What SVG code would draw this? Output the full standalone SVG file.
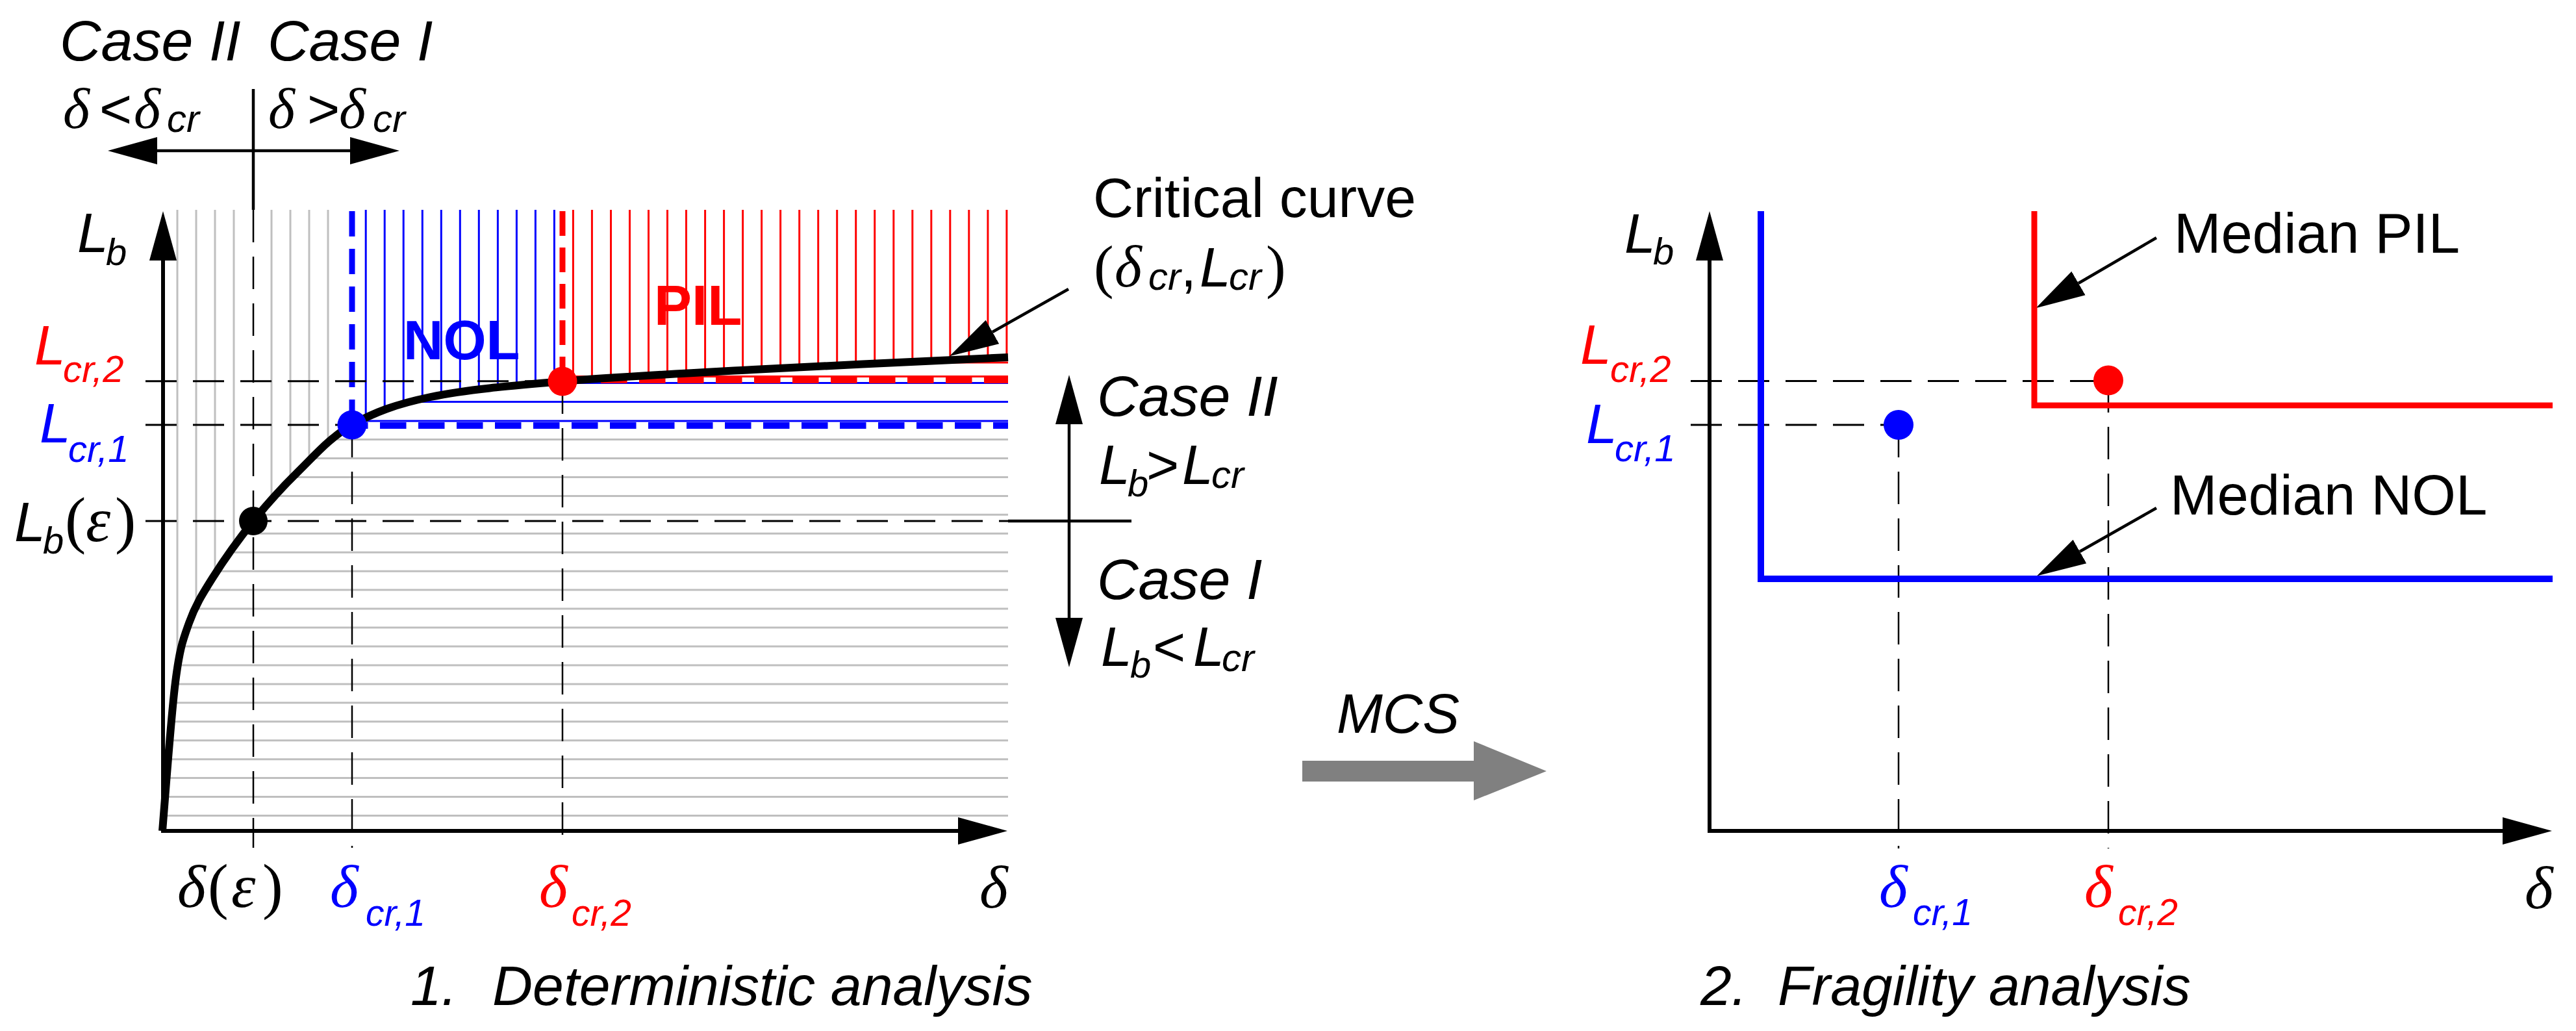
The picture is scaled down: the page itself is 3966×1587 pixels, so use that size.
<svg xmlns="http://www.w3.org/2000/svg" width="3966" height="1587" viewBox="0 0 3966 1587">
<style>
.t{font-family:"Liberation Sans",Arial,sans-serif;fill:#000}
.i{font-style:italic}
.g{font-family:"Liberation Serif","Times New Roman",serif;font-style:italic}
.p{font-family:"Liberation Serif","Times New Roman",serif;font-style:normal}
.b{font-weight:bold}
.red{fill:#ff0000}
.blue{fill:#0000ff}
.ax{stroke:#000;stroke-width:6;fill:none;stroke-linejoin:miter}
.arr{stroke:#000;stroke-width:4.5;fill:none}
.gh{stroke:#bfbfbf;stroke-width:3;fill:none}
.bh{stroke:#0000ff;stroke-width:3;fill:none}
.rh{stroke:#ff0000;stroke-width:3;fill:none}
.dh{stroke:#000;stroke-width:3;stroke-dasharray:48 25;fill:none}
.dv{stroke:#000;stroke-width:2.5;stroke-dasharray:50 22;fill:none}
</style>
<defs>
<marker id="ah" viewBox="0 -22 78 44" refX="0" refY="0" markerWidth="78" markerHeight="44" markerUnits="userSpaceOnUse" orient="auto-start-reverse"><path d="M0,-21 L76,0 L0,21 Z" fill="#000"/></marker>
<path id="curve" d="M250 1279 C253.3 1240.8 263.2 1103.3 270 1050 C276.8 996.7 281.5 985.7 291 959 C300.5 932.3 310.5 916.2 327 890 C343.5 863.8 368 829.3 390 802 C412 774.7 433.7 750.7 459 726 C484.3 701.3 508 673.2 542 654 C576 634.8 609 622.2 663 611 C717 599.8 783.3 594 866 587 C948.7 580 1044.7 575.2 1159 569 C1273.3 562.8 1486.5 553.2 1552 550"/>
<clipPath id="above"><path d="M250 1279 C253.3 1240.8 263.2 1103.3 270 1050 C276.8 996.7 281.5 985.7 291 959 C300.5 932.3 310.5 916.2 327 890 C343.5 863.8 368 829.3 390 802 C412 774.7 433.7 750.7 459 726 C484.3 701.3 508 673.2 542 654 C576 634.8 609 622.2 663 611 C717 599.8 783.3 594 866 587 C948.7 580 1044.7 575.2 1159 569 C1273.3 562.8 1486.5 553.2 1552 550 L1560 550 L1560 300 L240 300 L240 1279 Z"/></clipPath>
<clipPath id="below"><path d="M250 1279 C253.3 1240.8 263.2 1103.3 270 1050 C276.8 996.7 281.5 985.7 291 959 C300.5 932.3 310.5 916.2 327 890 C343.5 863.8 368 829.3 390 802 C412 774.7 433.7 750.7 459 726 C484.3 701.3 508 673.2 542 654 C576 634.8 609 622.2 663 611 C717 599.8 783.3 594 866 587 C948.7 580 1044.7 575.2 1159 569 C1273.3 562.8 1486.5 553.2 1552 550 L1560 550 L1560 1290 L250 1290 Z"/></clipPath>
</defs>
<rect width="3966" height="1587" fill="#fff"/>

<g id="left-panel">
<g id="hatch-vertical" clip-path="url(#above)">
<path class="gh" stroke-width="2.6" d="M273 323V1279M302 323V1279M331 323V1279M360 323V1279M418 323V1279M447 323V1279M476 323V1279M505 323V1279"/>
<path class="bh" stroke-width="2.8" d="M563.2 323V1279M592.2 323V1279M621.2 323V1279M650.3 323V1279M679.3 323V1279M708.3 323V1279M737.3 323V1279M766.4 323V1279M795.4 323V1279M824.4 323V1279M853.4 323V1279"/>
<path class="rh" stroke-width="2.8" d="M882.4 323V1279M911.4 323V1279M940.5 323V1279M969.5 323V1279M998.5 323V1279M1027.5 323V1279M1056.5 323V1279M1085.6 323V1279M1114.6 323V1279M1143.6 323V1279M1172.6 323V1279M1201.6 323V1279M1230.7 323V1279M1259.7 323V1279M1288.7 323V1279M1317.7 323V1279M1346.7 323V1279M1375.8 323V1279M1404.8 323V1279M1433.8 323V1279M1462.8 323V1279M1491.8 323V1279M1520.9 323V1279M1549.9 323V1279"/>
</g>
<g id="hatch-horizontal" clip-path="url(#below)">
<path class="gh" d="M250 1255.5H1552M250 1226.6H1552M250 1197.6H1552M250 1168.7H1552M250 1139.7H1552M250 1110.8H1552M250 1081.8H1552M250 1052.9H1552M250 1023.9H1552M250 995H1552M250 966H1552M250 937.1H1552M250 908.1H1552M250 879.2H1552M250 850.2H1552M250 821.3H1552M250 792.3H1552M250 763.4H1552M250 734.4H1552M250 705.5H1552M250 676.5H1552"/>
<path class="bh" stroke-width="3.5" d="M250 648H1552M250 618.5H1552M250 589.5H1552"/>
<path class="rh" stroke-width="4" d="M250 579.5H1552M250 558H1552"/>
</g>
<g id="critical-lines">
<path d="M542 325V640" stroke="#0000ff" stroke-width="9" stroke-dasharray="39 19" fill="none"/>
<path d="M866 325V570" stroke="#ff0000" stroke-width="9" stroke-dasharray="38 18" fill="none"/>
<path d="M542 655H1552" stroke="#0000ff" stroke-width="10" stroke-dasharray="40.5 18.5" stroke-dashoffset="16" fill="none"/>
<path d="M866 584H1552" stroke="#ff0000" stroke-width="12" stroke-dasharray="40.5 18.5" fill="none"/>
</g>
<g id="guide-lines">
<path class="dh" d="M224 586.7H866M224 654H542"/>
<path class="dh" stroke-width="4.5" stroke-dasharray="49 25" d="M224 802H1552"/>
<path class="dv" d="M390 323V1305M542 654V1305M866 587V1305"/>
</g>
<use id="critical-curve" href="#curve" fill="none" stroke="#000" stroke-width="12"/>
<g id="points">
<circle cx="390" cy="802" r="22" fill="#000"/>
<circle cx="542" cy="654" r="22.5" fill="#0000ff"/>
<circle cx="866" cy="587" r="22.5" fill="#ff0000"/>
</g>
<g id="left-axes">
<path class="ax" d="M251 401V1279H1475" marker-start="url(#ah)" marker-end="url(#ah)"/>
</g>
<g id="left-labels">
<text class="t i" font-size="88" x="92" y="93">Case II</text>
<text class="t i" font-size="88" x="412" y="93">Case I</text>
<text class="t" font-size="86" y="197"><tspan class="g" font-size="88" x="97">δ</tspan><tspan x="153">&lt;</tspan><tspan class="g" font-size="88" x="206">δ</tspan><tspan class="i" font-size="60" x="257" y="203">cr</tspan></text>
<text class="t" font-size="86" y="197"><tspan class="g" font-size="88" x="413">δ</tspan><tspan x="473">&gt;</tspan><tspan class="g" font-size="88" x="522">δ</tspan><tspan class="i" font-size="60" x="574" y="203">cr</tspan></text>
<text class="t i" font-size="86" y="388"><tspan x="119">L</tspan><tspan font-size="58" x="163" y="408">b</tspan></text>
<text class="t i red" font-size="86" y="561"><tspan x="53">L</tspan><tspan font-size="58" x="97" y="588">cr,2</tspan></text>
<text class="t i blue" font-size="86" y="681"><tspan x="61">L</tspan><tspan font-size="58" x="105" y="711">cr,1</tspan></text>
<text class="t i" font-size="86" y="833"><tspan x="22">L</tspan><tspan font-size="58" x="66" y="852">b</tspan><tspan class="p" font-size="97" x="100" y="833">(</tspan><tspan class="g" font-size="97" x="132">ε</tspan><tspan class="p" font-size="97" x="177">)</tspan></text>
<text class="t b blue" font-size="85" x="621" y="553">NOL</text>
<text class="t b red" font-size="87" x="1007" y="500">PIL</text>
<text class="t" font-size="86" y="1396"><tspan class="g" font-size="94" x="273">δ</tspan><tspan class="p" font-size="95" x="320">(</tspan><tspan class="g" font-size="95" x="356">ε</tspan><tspan class="p" font-size="95" x="404">)</tspan></text>
<text class="t blue" y="1396"><tspan class="g" font-size="94" x="508">δ</tspan><tspan class="i" font-size="57" x="563" y="1425">cr,1</tspan></text>
<text class="t red" y="1396"><tspan class="g" font-size="94" x="830">δ</tspan><tspan class="i" font-size="57" x="880" y="1425">cr,2</tspan></text>
<text class="g" font-size="94" x="1508" y="1397">δ</text>
<text class="t i" font-size="86" y="1547"><tspan x="632">1.</tspan><tspan x="758">Deterministic analysis</tspan></text>
</g>
<g id="critical-curve-label">
<text class="t" font-size="86" x="1683" y="334">Critical curve</text>
<text class="t" font-size="86" y="441"><tspan class="p" font-size="92" x="1684">(</tspan><tspan class="g" font-size="90" x="1716">δ</tspan><tspan class="i" font-size="60" x="1768" y="446">cr</tspan><tspan x="1818" y="441">,</tspan><tspan class="i" x="1847">L</tspan><tspan class="i" font-size="60" x="1892" y="446">cr</tspan><tspan class="p" font-size="92" x="1949" y="441">)</tspan></text>
</g>
<g id="case-labels-right">
<text class="t i" font-size="88" x="1689" y="640">Case II</text>
<text class="t i" font-size="86" y="745"><tspan x="1692">L</tspan><tspan font-size="58" x="1736" y="764">b</tspan><tspan font-style="normal" x="1765" y="745">&gt;</tspan><tspan x="1820">L</tspan><tspan font-size="60" x="1865" y="751">cr</tspan></text>
<text class="t i" font-size="88" x="1689" y="922">Case I</text>
<text class="t i" font-size="86" y="1025"><tspan x="1695">L</tspan><tspan font-size="58" x="1740" y="1043">b</tspan><tspan font-style="normal" x="1775" y="1025">&lt;</tspan><tspan x="1837">L</tspan><tspan font-size="60" x="1881" y="1033">cr</tspan></text>
</g>
</g>

<g id="connectors">
<path class="arr" d="M242 232H539" marker-start="url(#ah)" marker-end="url(#ah)"/>
<path class="arr" d="M390 137V323"/>
<path class="arr" d="M1646 653V951" marker-start="url(#ah)" marker-end="url(#ah)"/>
<path class="arr" d="M1552 802H1742"/>
<path class="arr" stroke-width="4" d="M1645 445L1528 511" marker-end="url(#ah)"/>
<path class="arr" stroke-width="4" d="M3320 366L3200 436" marker-end="url(#ah)"/>
<path class="arr" stroke-width="4" d="M3320 782L3202 849" marker-end="url(#ah)"/>
</g>

<g id="mcs-arrow">
<path d="M2005 1171H2269V1141L2381 1187L2269 1232V1203H2005Z" fill="#808080"/>
<text class="t i" font-size="85" x="2058" y="1128">MCS</text>
</g>

<g id="right-panel">
<g id="right-guides">
<path class="dh" d="M2603 586.5H3240M2603 654H2920"/>
<path class="dv" d="M2923 654V1306M3246 585V1306"/>
</g>
<g id="median-pil">
<path d="M3132 325V624H3930" stroke="#ff0000" stroke-width="9" fill="none"/>
</g>
<g id="median-nol">
<path d="M2711 325V891H3930" stroke="#0000ff" stroke-width="10" fill="none"/>
</g>
<g id="right-points">
<circle cx="2923" cy="654" r="23" fill="#0000ff"/>
<circle cx="3246" cy="585.5" r="23" fill="#ff0000"/>
</g>
<g id="right-axes">
<path class="ax" d="M2632 401V1279H3853" marker-start="url(#ah)" marker-end="url(#ah)"/>
</g>
<g id="right-labels">
<text class="t i" font-size="86" y="389"><tspan x="2501">L</tspan><tspan font-size="58" x="2545" y="407">b</tspan></text>
<text class="t i red" font-size="86" y="560"><tspan x="2433">L</tspan><tspan font-size="58" x="2479" y="588">cr,2</tspan></text>
<text class="t i blue" font-size="86" y="682"><tspan x="2442">L</tspan><tspan font-size="58" x="2486" y="710">cr,1</tspan></text>
<text class="t" font-size="87" x="3347" y="389">Median PIL</text>
<text class="t" font-size="87" x="3341" y="792">Median NOL</text>
<text class="t blue" y="1396"><tspan class="g" font-size="94" x="2893">δ</tspan><tspan class="i" font-size="57" x="2945" y="1424">cr,1</tspan></text>
<text class="t red" y="1396"><tspan class="g" font-size="94" x="3209">δ</tspan><tspan class="i" font-size="57" x="3261" y="1424">cr,2</tspan></text>
<text class="g" font-size="94" x="3887" y="1398">δ</text>
<text class="t i" font-size="86" y="1547"><tspan x="2618">2.</tspan><tspan x="2737">Fragility analysis</tspan></text>
</g>
</g>
</svg>
